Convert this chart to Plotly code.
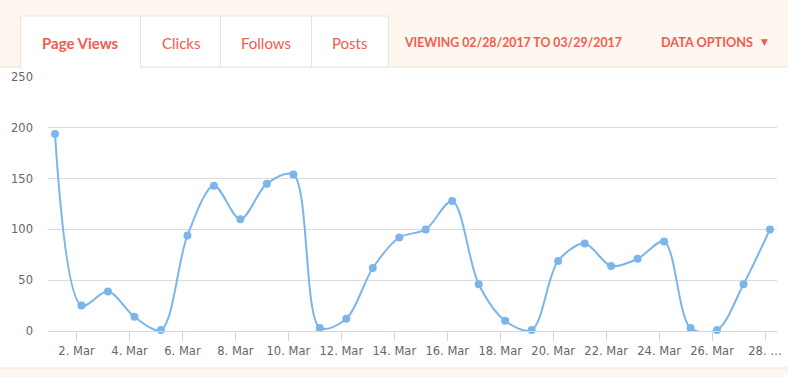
import plotly.graph_objects as go
import pandas as pd

# ---- data ----
days = list(range(1, 29))
page_views = [194, 25, 39, 14, 1, 94, 143, 110, 145, 154, 3, 12, 62, 92, 100,
              128, 46, 10, 1, 69, 86, 64, 71, 88, 3, 1, 46, 100]
tick_days = list(range(2, 29, 2))
tick_labels = [f"{d}. Mar" for d in tick_days[:-1]] + ["28. …"]
y_ticks = [0, 50, 100, 150, 200, 250]

tabs = ["Page Views", "Clicks", "Follows", "Posts"]
viewing_text = "VIEWING 02/28/2017 TO 03/29/2017"
options_text = "DATA OPTIONS"

# ---- geometry ----
W, H = 788, 377
L, R, T, B = 48, 777, 77, 331
CORAL = "#f45b4f"
CREAM = "#fef7f0"
BORDER = "#ece2d9"

x_dates = [pd.Timestamp(2017, 3, d) + pd.Timedelta(hours=4.5) for d in days]
tick_dates = [pd.Timestamp(2017, 3, d) for d in tick_days]
pad = pd.Timedelta(days=0.265)
x_range = [x_dates[0] - pad, x_dates[-1] + pad]


def px(x):
    return (x - L) / (R - L)


def py(y):
    return (B - y) / (B - T)


fig = go.Figure()
fig.add_trace(go.Scatter(
    x=x_dates, y=page_views, mode="lines+markers",
    line=dict(color="#7cb5ec", width=2, shape="spline", smoothing=0.9),
    marker=dict(color="#7cb5ec", size=8),
    hoverinfo="skip", showlegend=False, cliponaxis=False,
))

shapes = []
# top cream band
shapes.append(dict(type="rect", xref="paper", yref="paper", x0=px(0), x1=px(W),
                   y0=py(67), y1=py(0), fillcolor=CREAM, line=dict(width=0), layer="below"))
shapes.append(dict(type="line", xref="paper", yref="paper", x0=px(0), x1=px(W),
                   y0=py(67), y1=py(67), line=dict(color=BORDER, width=1)))
# bottom cream band
shapes.append(dict(type="rect", xref="paper", yref="paper", x0=px(0), x1=px(W),
                   y0=py(H), y1=py(368), fillcolor=CREAM, line=dict(width=0), layer="below"))
shapes.append(dict(type="line", xref="paper", yref="paper", x0=px(0), x1=px(W),
                   y0=py(368), y1=py(368), line=dict(color=BORDER, width=1)))

tab_edges = [20.5, 140.5, 220.5, 311.5, 388.5]
for i in range(len(tabs)):
    x0, x1 = tab_edges[i], tab_edges[i + 1]
    y_bottom = 68 if i == 0 else 67
    shapes.append(dict(type="rect", xref="paper", yref="paper", x0=px(x0), x1=px(x1),
                       y0=py(y_bottom), y1=py(16), fillcolor="white",
                       line=dict(color=BORDER, width=1)))
# cover bottom border of active tab
shapes.append(dict(type="rect", xref="paper", yref="paper", x0=px(21.2), x1=px(139.8),
                   y0=py(69.5), y1=py(65), fillcolor="white", line=dict(width=0)))

annotations = []
tab_centers = [80.5, 180.5, 266, 349.5]
for i, (t, c) in enumerate(zip(tabs, tab_centers)):
    annotations.append(dict(
        x=px(c), y=py(42.5), xref="paper", yref="paper", text=f"<b>{t}</b>" if i == 0 else t,
        showarrow=False, xanchor="center", yanchor="middle",
        font=dict(family="Lato, Noto Sans, sans-serif", size=15, color=CORAL)))
annotations.append(dict(
    x=px(401.5), y=py(42), xref="paper", yref="paper", text=f"<b>{viewing_text}</b>",
    showarrow=False, xanchor="left", yanchor="middle",
    font=dict(family="Lato, Noto Sans, sans-serif", size=12.3, color=CORAL)))
annotations.append(dict(
    x=px(659), y=py(42), xref="paper", yref="paper", text=f"<b>{options_text}</b>",
    showarrow=False, xanchor="left", yanchor="middle",
    font=dict(family="Lato, Noto Sans, sans-serif", size=12.7, color=CORAL)))
annotations.append(dict(
    x=px(764), y=py(42), xref="paper", yref="paper", text="▼",
    showarrow=False, xanchor="center", yanchor="middle",
    font=dict(family="DejaVu Sans, sans-serif", size=9, color=CORAL)))

fig.update_layout(
    width=W, height=H, autosize=False,
    margin=dict(l=L, r=W - R, t=T, b=H - B, pad=0, autoexpand=False),
    paper_bgcolor="white", plot_bgcolor="white",
    shapes=shapes, annotations=annotations,
    showlegend=False,
    xaxis=dict(
        type="date", range=x_range, tickvals=tick_dates, ticktext=tick_labels,
        showgrid=False, zeroline=False, showline=True, linecolor="#ccd6eb", linewidth=1,
        ticks="outside", ticklen=9, tickcolor="#ccd6eb", tickwidth=1,
        tickfont=dict(family="DejaVu Sans, sans-serif", size=11.5, color="#666666"),
        fixedrange=True, automargin=False,
    ),
    yaxis=dict(
        range=[0, 250], tickvals=y_ticks, showgrid=True, gridcolor="#dcdcdc", gridwidth=1,
        zeroline=False, showline=False, ticks="", ticklabelstandoff=14,
        tickfont=dict(family="DejaVu Sans, sans-serif", size=11.5, color="#666666"),
        fixedrange=True, automargin=False,
    ),
)

fig.write_html("out.html", config={"displayModeBar": False},
               post_script="document.body.style.margin='0';document.body.style.overflow='hidden';")
